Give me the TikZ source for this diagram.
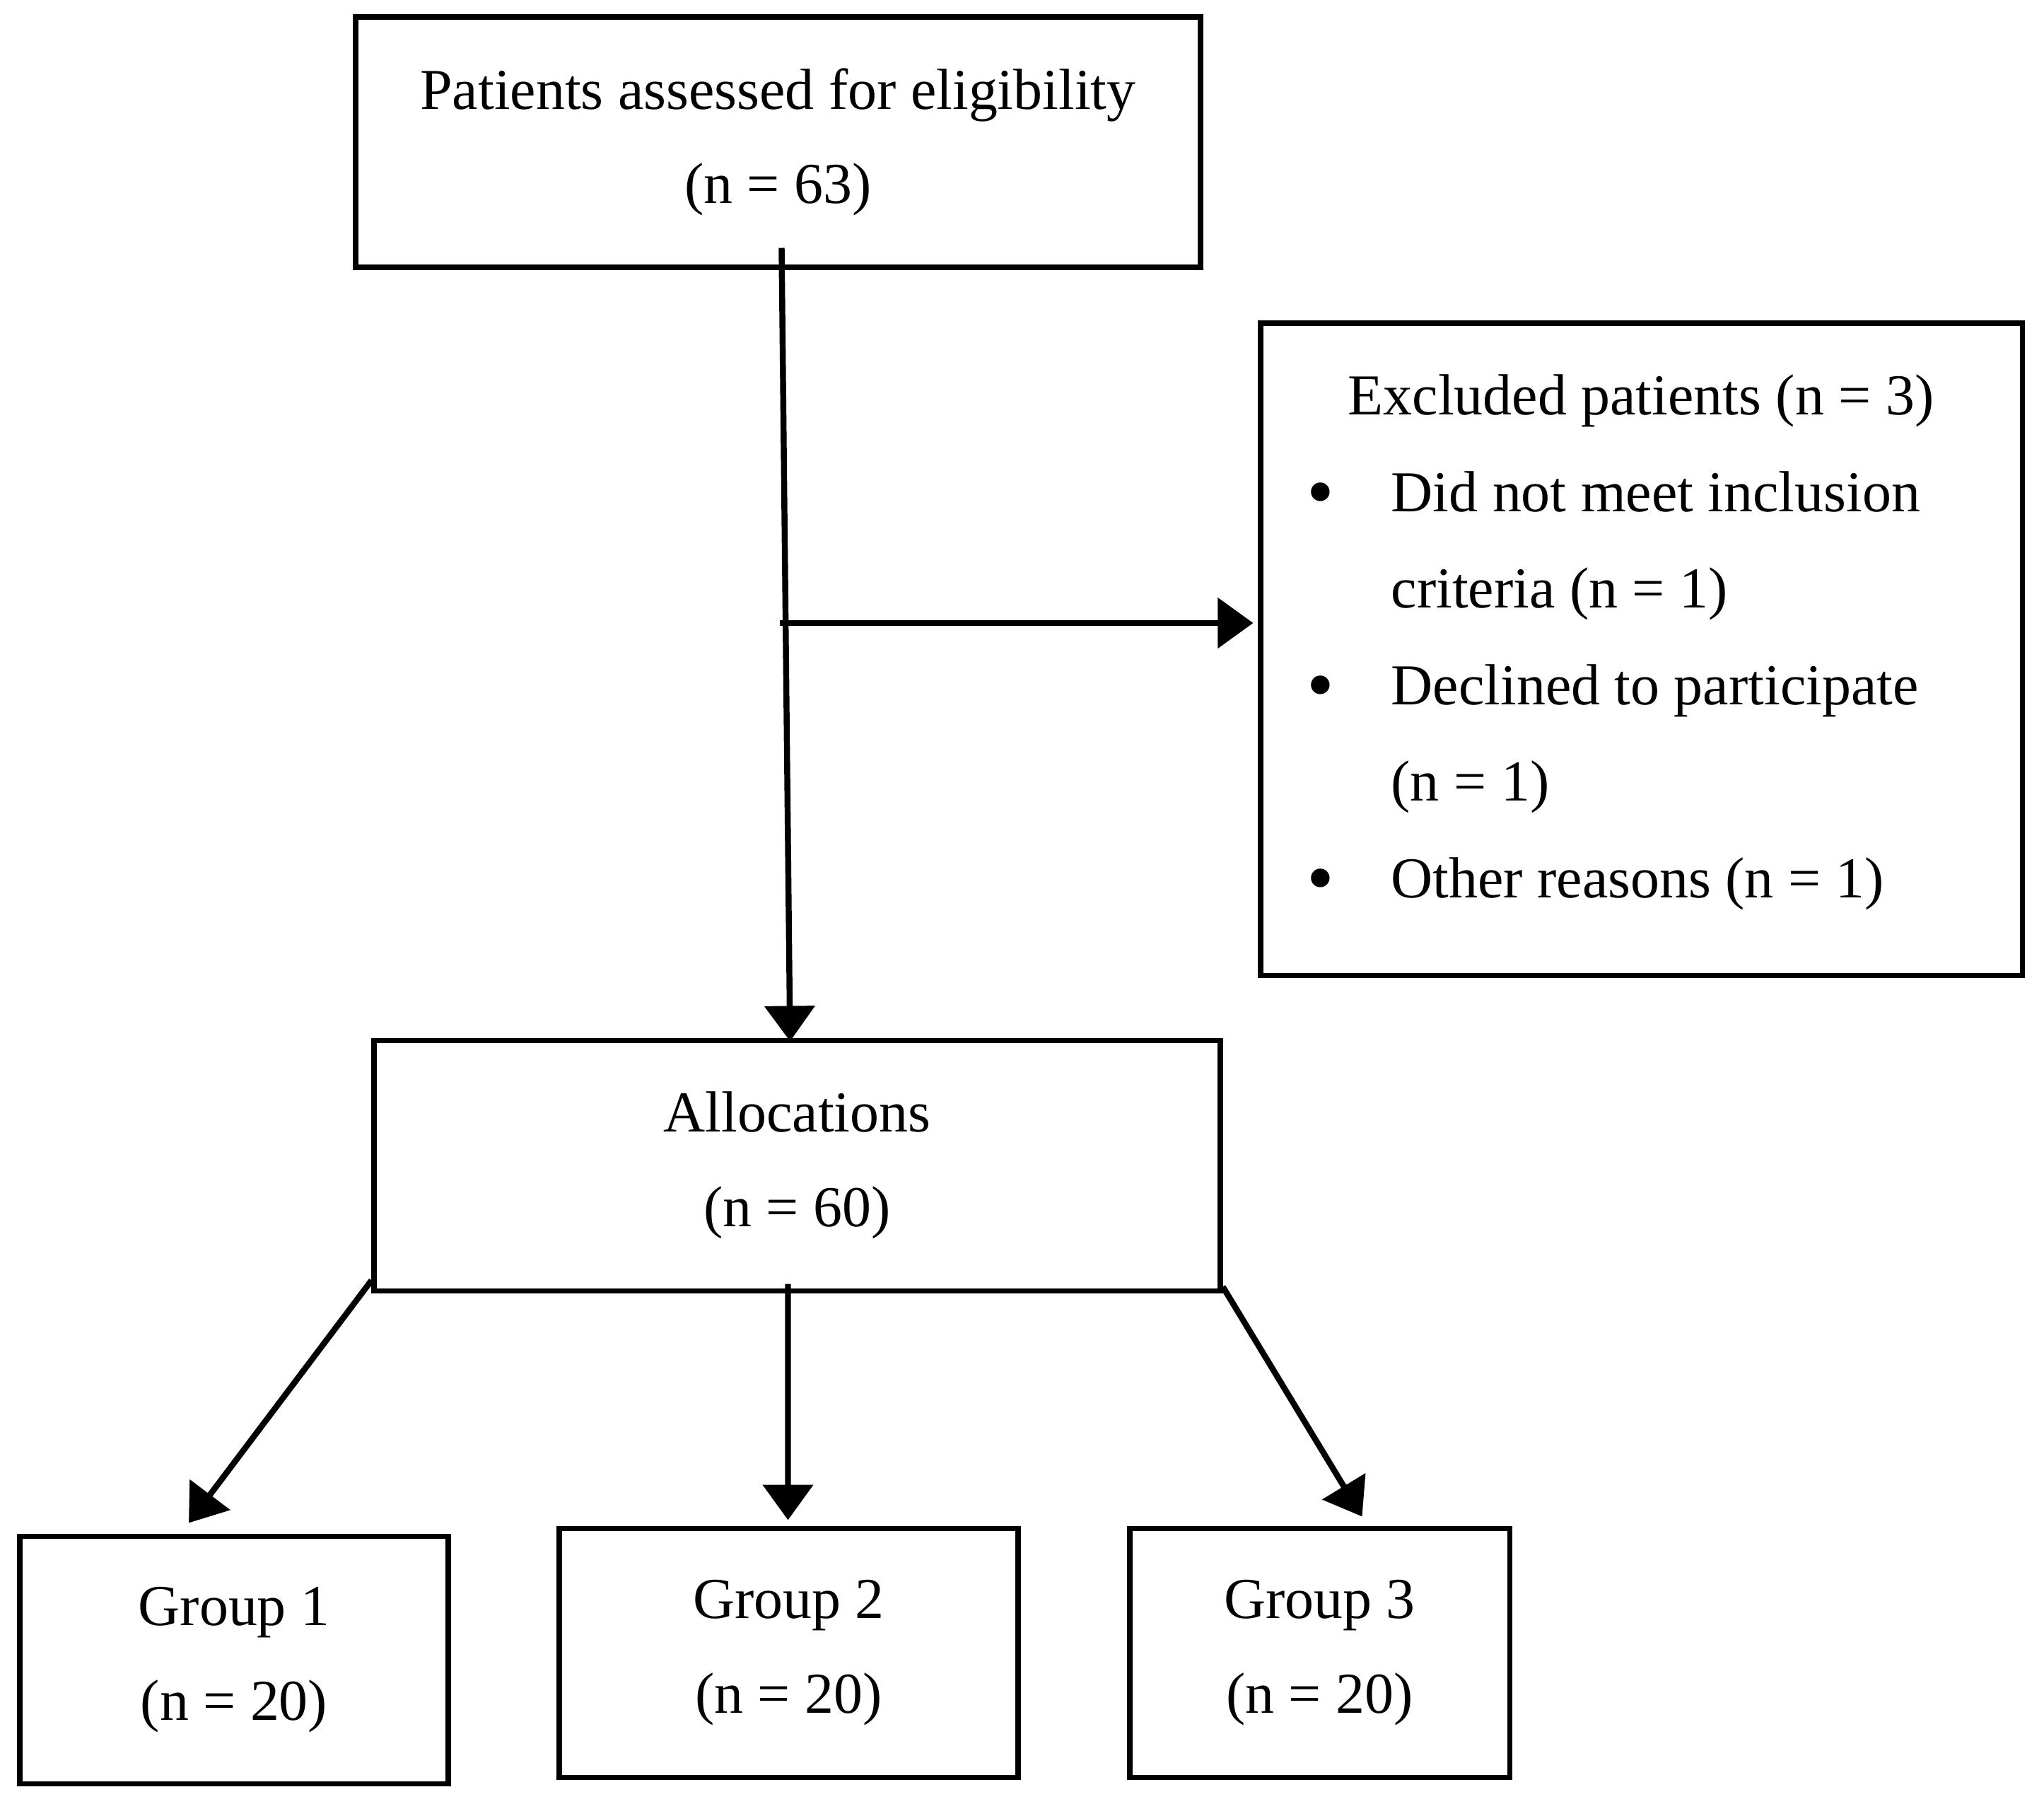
\documentclass[tikz,border=0pt]{standalone}
\usepackage{fontspec}
\setmainfont{Liberation Serif}
\usetikzlibrary{arrows.meta,positioning,calc}

\begin{document}
\begin{tikzpicture}[
            box/.style={
                draw=black,
                fill=white,
                line width=2pt,
                align=center,
                inner sep=0pt,
                font=\fontsize{23.3}{38}\selectfont
            },
            txt/.style={
                inner sep=0pt,
                font=\fontsize{23.3}{38}\selectfont
            },
            dot/.style={
                txt,
                anchor=base,
                yshift=-0.09cm
            },
            flow/.style={-{Triangle[length=0.5cm,width=0.7cm]}, line width=2.4pt}
        ]
        \useasboundingbox (0,0) rectangle (28.91,-25.51);

        % Cajas
        \node[box, minimum width=11.95cm, minimum height=3.54cm] (assess) at (11.005,-2.01)
            {Patients assessed for eligibility\\(n = 63)};
        \node[box, minimum width=10.77cm, minimum height=9.22cm] (excl) at (23.215,-9.18) {};
        \node[box, minimum width=11.97cm, minimum height=3.54cm] (alloc) at (11.275,-16.48)
            {Allocations\\(n = 60)};
        \node[box, minimum width=6.06cm, minimum height=3.50cm] (grp1) at (3.31,-23.47)
            {Group 1\\(n = 20)};
        \node[box, minimum width=6.49cm, minimum height=3.52cm] (grp2) at (11.155,-23.37)
            {Group 2\\(n = 20)};
        \node[box, minimum width=5.37cm, minimum height=3.52cm] (grp3) at (18.665,-23.37)
            {Group 3\\(n = 20)};

        % Motivos de exclusion
        \node[txt, anchor=base] (exttl) at (23.21,-5.86) {Excluded patients (n = 3)};
        \node[dot] (b1) at (18.68,-7.23) {\scalebox{1.35}{\textbullet}};
        \node[txt, anchor=base west] (ex1) at (19.67,-7.23) {Did not meet inclusion};
        \node[txt, anchor=base west] (ex1b) at (19.67,-8.59) {criteria (n = 1)};
        \node[dot] (b2) at (18.68,-9.96) {\scalebox{1.35}{\textbullet}};
        \node[txt, anchor=base west] (ex2) at (19.67,-9.96) {Declined to participate};
        \node[txt, anchor=base west] (ex2b) at (19.67,-11.32) {(n = 1)};
        \node[dot] (b3) at (18.68,-12.69) {\scalebox{1.35}{\textbullet}};
        \node[txt, anchor=base west] (ex3) at (19.67,-12.69) {Other reasons (n = 1)};

        % Flechas
        \coordinate (split) at (11.03,-8.81);
        \draw[flow] ([shift={(0.05,0.31)}]assess.south) -- ([shift={(-0.1,-0.05)}]alloc.north);
        \draw[flow] (split) -- ($(split -| excl.west)+(-0.07,0)$);
        \draw[flow] ([shift={(0,0.18)}]alloc.south west) -- ([shift={(-0.64,0.15)}]grp1.north);
        \draw[flow] ([shift={(-0.13,0.13)}]alloc.south) -- ([shift={(-0.01,0.08)}]grp2.north);
        \draw[flow] ([shift={(0,0.09)}]alloc.south east) -- ([shift={(0.6,0.13)}]grp3.north);

        \end{tikzpicture}
\end{document}
